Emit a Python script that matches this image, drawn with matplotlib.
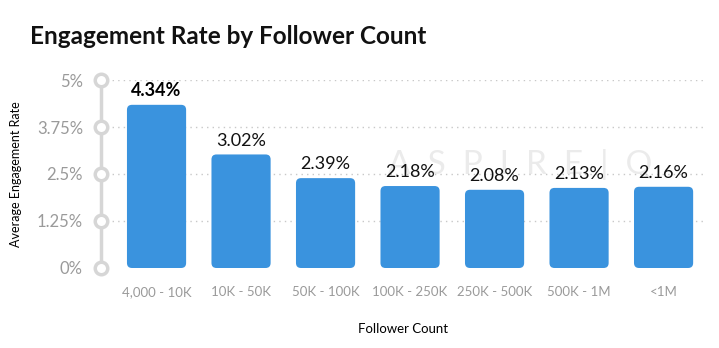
import matplotlib.pyplot as plt
from matplotlib.patches import FancyBboxPatch

plt.rcParams['font.family'] = ['Lato', 'DejaVu Sans']

categories = ["4,000 - 10K", "10K - 50K", "50K - 100K", "100K - 250K",
              "250K - 500K", "500K - 1M", "<1M"]
rates = [4.34, 3.02, 2.39, 2.18, 2.08, 2.13, 2.16]
ytick_vals = [0, 1.25, 2.5, 3.75, 5]
ytick_labels = ["0%", "1.25%", "2.5%", "3.75%", "5%"]

bar_color = "#3a93de"
grey = "#9a9a9a"
light = "#d6d6d6"

fig = plt.figure(figsize=(7.19, 3.48), dpi=100)
ax = fig.add_axes([0.1405, 0.2299, 0.84, 0.5402])
ax.set_xlim(-0.657, 6.49)
ax.set_ylim(0, 5)

# axes size in pixels to make rounded corners look round
px_x = 0.84 * 719 / (6.49 + 0.657)
px_y = 0.5402 * 348 / 5
width = 0.7
for i, v in enumerate(rates):
    box = FancyBboxPatch((i - width / 2, 0), width, v,
                         boxstyle="round,pad=0,rounding_size=%f" % (5 / px_x),
                         mutation_aspect=px_x / px_y,
                         fc=bar_color, ec="none", zorder=3)
    ax.add_patch(box)
    if i == 0:
        ax.text(i, v + 0.15, "%.2f%%" % v, ha="center", va="bottom",
                fontsize=13, fontweight="bold", color="black", zorder=4)
    else:
        ax.text(i, v + 0.15, "%.2f%%" % v, ha="center", va="bottom",
                fontsize=13, color="#111111", zorder=4)

# dotted gridlines
for y in ytick_vals[1:]:
    ax.axhline(y, color="#c8c8c8", ls=(0, (1, 3)), lw=1, zorder=1)

# axis line with circle markers
ax.plot([-0.657, -0.657], [0, 5], color=light, lw=2.5, clip_on=False, zorder=5)
ax.plot([-0.657] * len(ytick_vals), ytick_vals, "o", ms=9, mfc="white",
        mec=light, mew=2.5, clip_on=False, zorder=6)

for s in ax.spines.values():
    s.set_visible(False)
ax.set_yticks(ytick_vals)
ax.set_yticklabels(ytick_labels, color=grey, fontsize=12)
ax.tick_params(axis="y", length=0, pad=13)
ax.set_xticks(range(len(categories)))
ax.set_xticklabels(categories, color=grey, fontsize=9.5)
ax.tick_params(axis="x", length=0, pad=13)

ax.set_xlabel("Follower Count", fontsize=9.5, labelpad=18)
fig.text(0.022, 0.50, "Average Engagement Rate", rotation=90, ha="center",
         va="center", fontsize=9)

# faint watermark
ax.text(4.3, 2.75, "A  S  P  I  R  E  |  Q", ha="center", va="center",
        fontsize=24, color="#ebebeb", zorder=0)

fig.text(0.042, 0.895, "Engagement Rate by Follower Count", fontsize=17.5,
         fontweight="bold", color="#111111", ha="left", va="center")

fig.savefig("out.png", dpi=100)
